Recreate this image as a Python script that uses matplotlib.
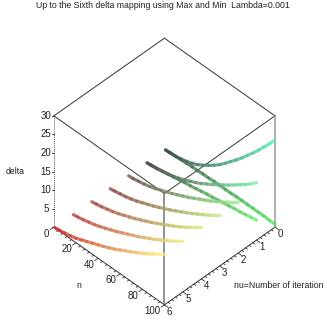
import numpy as np
import matplotlib
matplotlib.use('Agg')
import matplotlib.pyplot as plt
from matplotlib.colors import LinearSegmentedColormap
from mpl_toolkits.mplot3d import proj3d
from mpl_toolkits.mplot3d.art3d import Line3DCollection


plt.rcParams.update({'font.family': ['Liberation Sans', 'DejaVu Sans'], 'font.size': 7})


TITLE = 'Up to the Sixth delta mapping using Max and Min  Lambda=0.001'

N_VALUES = [1, 5, 10, 15, 20, 25, 30, 35, 40, 45, 50, 55, 60, 65, 70, 75, 80, 85, 90, 95, 100]

DELTA_NU6 = [0.1, 0.2, 0.5, 0.8, 1.2, 1.8, 2.4, 3.0, 3.6, 4.2, 4.9, 5.6, 6.4, 7.2, 8.0, 8.8, 9.7, 10.6, 11.6, 12.6, 13.6]
DELTA_NU5 = [0.1, 0.3, 0.6, 1.0, 1.4, 1.9, 2.5, 3.1, 3.7, 4.4, 5.1, 5.8, 6.5, 7.3, 8.1, 8.9, 9.8, 10.7, 11.6, 12.6, 13.6]
DELTA_NU4 = [0.1, 0.3, 0.6, 1.0, 1.4, 1.9, 2.5, 3.1, 3.7, 4.4, 5.1, 5.8, 6.6, 7.4, 8.2, 9.0, 9.9, 10.8, 11.8, 12.8, 13.9]
DELTA_NU3 = [0.1, 0.3, 0.6, 0.9, 1.3, 1.8, 2.4, 3.0, 3.6, 4.3, 5.0, 5.7, 6.5, 7.3, 8.1, 8.9, 9.8, 10.7, 11.6, 12.6, 13.6]
DELTA_NU2 = [0.1, 0.2, 0.5, 0.8, 1.2, 1.7, 2.3, 2.9, 3.5, 4.2, 4.9, 5.6, 6.4, 7.2, 8.0, 8.8, 9.7, 10.6, 11.6, 12.6, 13.6]
DELTA_NU1_MAX = [0.1, 0.2, 0.4, 0.7, 1.0, 1.5, 2.0, 2.6, 3.3, 4.0, 4.8, 5.7, 6.6, 7.6, 8.6, 9.6, 10.7, 11.8, 12.9, 14.1, 15.5]
DELTA_NU1_MIN = [0.1, 0.3, 0.5, 0.8, 1.1, 1.3, 1.6, 1.9, 2.1, 2.4, 2.7, 3.0, 3.2, 3.5, 3.8, 4.0, 4.3, 4.5, 4.8, 5.1, 5.4]
DELTA_NU0_MAX = [0.1, 0.2, 0.3, 0.6, 1.0, 1.5, 2.2, 3.1, 4.1, 5.2, 6.4, 7.8, 9.3, 10.8, 12.4, 14.1, 15.8, 17.6, 19.5, 21.4, 23.5]
DELTA_NU0_MIN = [0.1, 0.2, 0.3, 0.4, 0.5, 0.6, 0.6, 0.7, 0.7, 0.8, 0.8, 0.8, 0.8, 0.9, 0.9, 0.9, 0.9, 0.9, 0.9, 0.8, 0.8]

CURVES = [
	(0, DELTA_NU0_MIN, '#3c5046', '#50e664'),
	(0, DELTA_NU0_MAX, '#3c5046', '#5ae6be'),
	(1, DELTA_NU1_MIN, '#505046', '#64eb6e'),
	(1, DELTA_NU1_MAX, '#505046', '#78ebaa'),
	(2, DELTA_NU2, '#6e5050', '#96f08c'),
	(3, DELTA_NU3, '#8c4646', '#beeb82'),
	(4, DELTA_NU4, '#aa4646', '#d2eb78'),
	(5, DELTA_NU5, '#be3c46', '#ebeb82'),
	(6, DELTA_NU6, '#c82828', '#fff082'),
]

DELTA_TICKS = [0, 5, 10, 15, 20, 25, 30]
N_TICKS = [20, 40, 60, 80, 100]
NU_TICKS = [0, 1, 2, 3, 4, 5, 6]

NU_MAX, N_MAX, DELTA_MAX = 6, 100, 30


def plot_curve(axis, nu, delta, start, end):
	points = np.column_stack([np.full(len(N_VALUES), nu), N_VALUES, delta])
	segments = np.stack([points[:-1], points[1:]], axis=1)
	cmap = LinearSegmentedColormap.from_list('curve', [start, end])
	colors = cmap(np.linspace(0, 1, len(segments)))
	axis.add_collection3d(Line3DCollection(segments, colors=colors, linewidths=2.3, alpha=0.8, zorder=3, capstyle='round'))


def plot_box(axis):
	edges = [
		((0, 0), (0, N_MAX), (DELTA_MAX, DELTA_MAX)),
		((0, NU_MAX), (0, 0), (DELTA_MAX, DELTA_MAX)),
		((NU_MAX, NU_MAX), (0, N_MAX), (DELTA_MAX, DELTA_MAX)),
		((0, NU_MAX), (N_MAX, N_MAX), (DELTA_MAX, DELTA_MAX)),
		((NU_MAX, NU_MAX), (0, N_MAX), (0, 0)),
		((0, NU_MAX), (N_MAX, N_MAX), (0, 0)),
	]
	for xs, ys, zs in edges:
		axis.plot(xs, ys, zs, color='#333333', lw=0.7, zorder=2)
	# the two grey uprights
	axis.plot((NU_MAX, NU_MAX), (N_MAX, N_MAX), (0, DELTA_MAX), color='#777777', lw=1.1, zorder=2)
	axis.plot((0, 0), (N_MAX, N_MAX), (0, DELTA_MAX), color='#999999', lw=1.1, zorder=2)
	axis.plot((NU_MAX, NU_MAX), (0, 0), (0, DELTA_MAX), color='#555555', lw=0.7, ls=(0, (1, 1)), zorder=2)


def plot_ticks(axis):
	for delta in np.arange(0, DELTA_MAX + 1, 5):
		axis.plot((NU_MAX, NU_MAX + 0.06), (0, -1), (delta, delta), color='#333333', lw=0.6, zorder=2)
	for n in np.arange(0, N_MAX + 1, 4):
		size = 0.18 if n % 20 == 0 else 0.09
		axis.plot((NU_MAX, NU_MAX + size), (n, n), (0, 0), color='#333333', lw=0.6, zorder=2)
	for nu in np.arange(0, NU_MAX + 0.01, 0.2):
		size = 3 if abs(nu - round(nu)) < 0.01 else 1.5
		axis.plot((nu, nu), (N_MAX, N_MAX + size), (0, 0), color='#333333', lw=0.6, zorder=2)


def tick_label(axis, nu, n, delta, text, offset, ha='center'):
	x, y, _ = proj3d.proj_transform(nu, n, delta, axis.get_proj())
	axis.annotate(text, (x, y), xytext=offset, textcoords='offset pixels', ha=ha, va='center', color='#222222')


def plot_labels(axis):
	for delta in DELTA_TICKS:
		offset = (-8, 0) if delta > 0 else (-8, -7)
		tick_label(axis, NU_MAX, 0, delta, str(delta), offset)
	for n in N_TICKS:
		tick_label(axis, NU_MAX, n, 0, str(n), (-4, -6.5), ha='right')
	for nu in NU_TICKS:
		tick_label(axis, nu, N_MAX, 0, str(nu), (5, -7))


if __name__ == '__main__':

	fig = plt.figure(figsize=(3.27, 3.27), dpi=100)
	axis = fig.add_axes([-0.0107, -0.038, 1, 1], projection='3d', computed_zorder=False)
	axis.set_proj_type('ortho')
	axis.view_init(elev=44.6, azim=45)
	axis.set_xlim(0, NU_MAX)
	axis.set_ylim(0, N_MAX)
	axis.set_zlim(0, DELTA_MAX)
	axis.set_box_aspect((1, 1, 1), zoom=0.804)
	axis.set_axis_off()

	plot_box(axis)
	plot_ticks(axis)
	for nu, delta, start, end in CURVES:
		plot_curve(axis, nu, delta, start, end)
	plot_labels(axis)

	fig.text(163 / 327, 1 - 5 / 327, TITLE, ha='center', va='center', fontsize=6.35, color='#222222')
	fig.text(15 / 327, 1 - 172 / 327, 'delta', ha='center', va='center', fontsize=6.35, color='#222222')
	fig.text(79 / 327, 1 - 285 / 327, 'n', ha='center', va='center', fontsize=6.35, color='#222222')
	fig.text(279 / 327, 1 - 285 / 327, 'nu=Number of iteration', ha='center', va='center', fontsize=6.35, color='#222222')

	fig.savefig('out.png', dpi=100)
